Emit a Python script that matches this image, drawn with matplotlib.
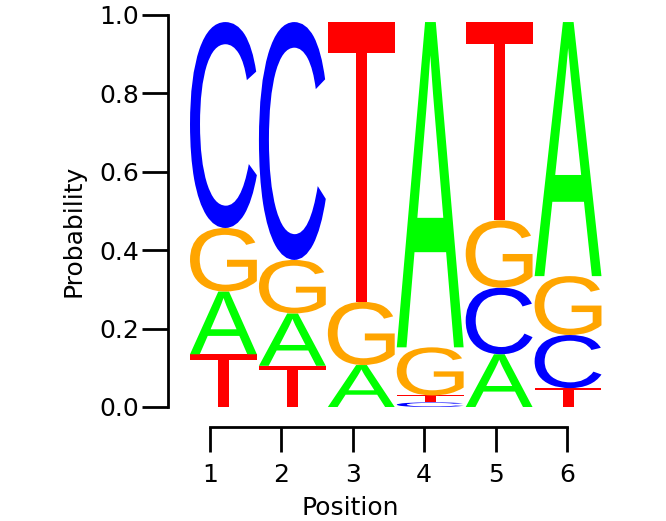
import matplotlib
matplotlib.use("Agg")
import matplotlib.pyplot as plt
from matplotlib.textpath import TextPath
from matplotlib.patches import PathPatch
from matplotlib.font_manager import FontProperties
from matplotlib.transforms import Affine2D

# -----------------------------------------------------------------
# data: probability of each base at each position
# -----------------------------------------------------------------
positions = [1, 2, 3, 4, 5, 6]
bases = ["A", "C", "G", "T"]
prob_A = [0.163, 0.136, 0.109, 0.845, 0.137, 0.660]
prob_C = [0.535, 0.618, 0.000, 0.012, 0.173, 0.138]
prob_G = [0.165, 0.139, 0.164, 0.125, 0.175, 0.153]
prob_T = [0.137, 0.107, 0.727, 0.018, 0.515, 0.049]
yticks = [0.0, 0.2, 0.4, 0.6, 0.8, 1.0]

base_colors = {"A": "#00ff00", "C": "#0000ff", "G": "#ffa500", "T": "#ff0000"}
stack_scale = 0.982   # logo stacks stop just under 1.0
glyph_width = 0.97

W, H = 666, 521
fig = plt.figure(figsize=(W / 100, H / 100), dpi=100)

# main logo axes (pixel layout: y 0 -> 407px, 1 -> 15px)
ax = fig.add_axes([168 / W, (H - 407) / H, (610 - 168) / W, 392 / H])
ax.set_ylim(0, 1)
ax.set_xlim(1 + (168 - 223.5) / 69, 6 + (610 - 568) / 69)

font = FontProperties(family="Liberation Sans")


def draw_letter(letter, x, y0, h):
    if h <= 0:
        return
    tp = TextPath((0, 0), letter, size=1, prop=font)
    bb = tp.get_extents()
    tr = (Affine2D()
          .translate(-bb.x0, -bb.y0)
          .scale(glyph_width / bb.width, h / bb.height)
          .translate(x - glyph_width / 2, y0))
    ax.add_patch(PathPatch(tr.transform_path(tp), facecolor=base_colors[letter],
                           edgecolor="none"))


probs = {"A": prob_A, "C": prob_C, "G": prob_G, "T": prob_T}
for i, pos in enumerate(positions):
    col = sorted(bases, key=lambda b: probs[b][i])
    y = 0.0
    for b in col:
        h = probs[b][i] * stack_scale
        draw_letter(b, pos, y, h)
        y += h

for s in ["top", "right", "bottom"]:
    ax.spines[s].set_visible(False)
ax.spines["left"].set_linewidth(2)
ax.spines["left"].set_bounds(0, 1)
ax.set_xticks([])
ax.set_yticks(yticks)
ax.set_yticklabels([f"{t:.1f}" for t in yticks])
ax.tick_params(axis="y", length=19, width=2, labelsize=18, pad=2)
ax.patch.set_visible(False)

# separate position axis below the logo
ax2 = fig.add_axes([168 / W, (H - 427) / H, (610 - 168) / W, 0.001])
ax2.set_xlim(1 - (210 - 168) / 71.4, 6 + (610 - 567) / 71.4)
for s in ["top", "right", "left"]:
    ax2.spines[s].set_visible(False)
ax2.spines["bottom"].set_linewidth(2)
ax2.spines["bottom"].set_bounds(1, 6)
ax2.set_yticks([])
ax2.set_xticks(positions)
ax2.set_xticklabels([str(p) for p in positions])
ax2.tick_params(axis="x", length=18, width=2, labelsize=18, pad=8)
ax2.patch.set_visible(False)

fig.text(73 / W, 1 - 231 / H, "Probability", rotation=90, fontsize=18,
         ha="center", va="center")
fig.text(350 / W, 1 - 515 / H, "Position", fontsize=18, ha="center", va="baseline")

fig.savefig("out.png", dpi=100)
